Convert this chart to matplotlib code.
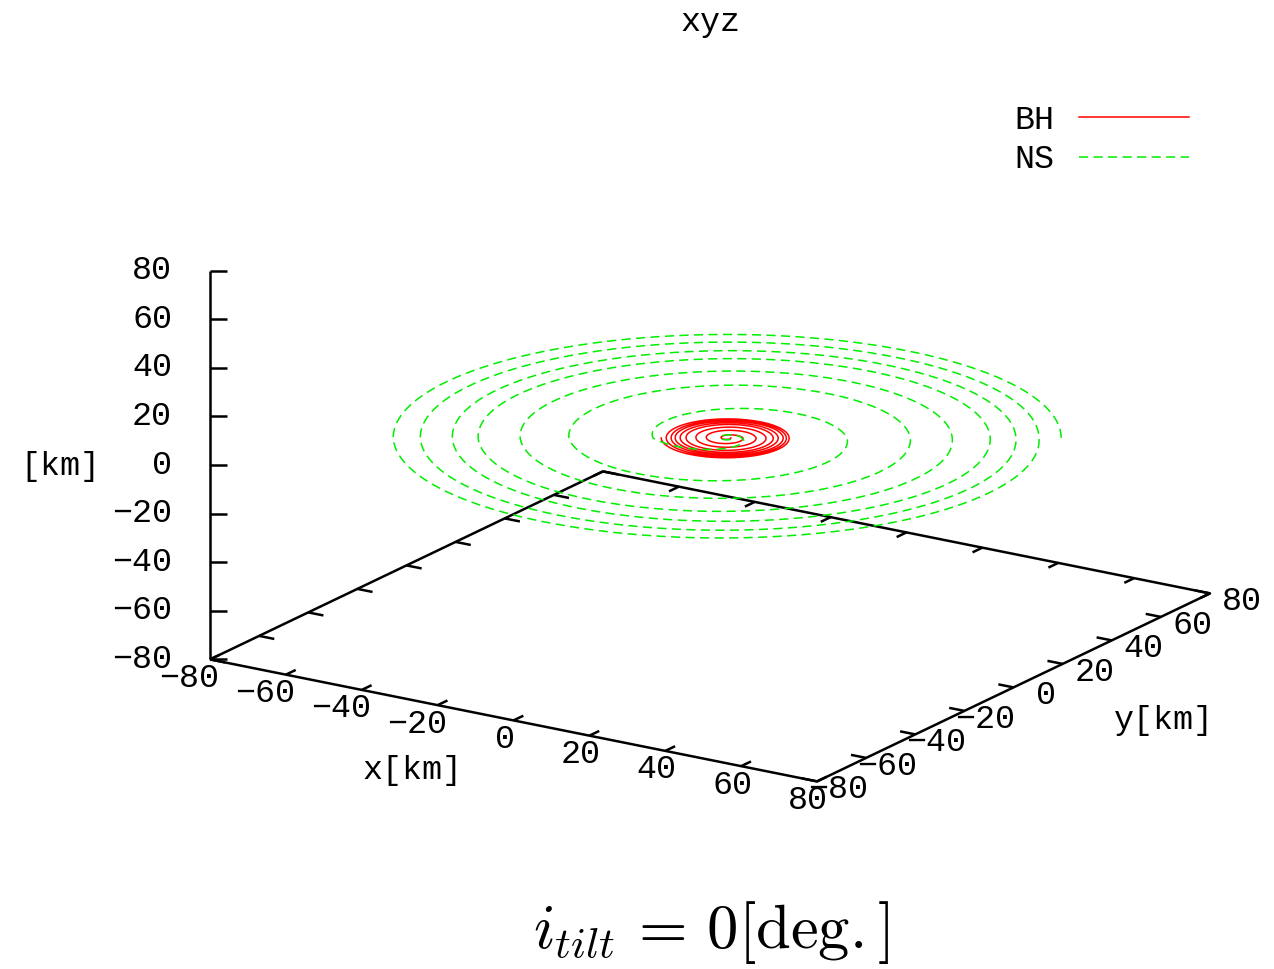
import numpy as np
import matplotlib
matplotlib.use("Agg")
import matplotlib.pyplot as plt

# ---- data -------------------------------------------------------------
# Orbit radius [km] at successive half turns (screen right / left extremes)
ns_half_turn_radius = [73.9, 73.9, 69.0, 67.9, 63.9, 60.8, 58.2, 55.1,
                       49.8, 45.8, 40.5, 35.0, 26.5, 16.4, 3.2, 1.5, 1.2]
bh_half_turn_radius = [14.6, 13.7, 13.5, 13.1, 12.4, 12.4, 11.5, 11.3,
                       10.4, 10.2, 9.1, 8.6, 6.9, 6.4, 4.6, 3.5, 1.3, 0.8]
orbit_center = (5.5, -1.5)          # [km] in the x-y plane
orbit_z = 0.0                       # [km]
ns_start_deg = 33.0
bh_start_deg = 213.0

axis_range = (-80, 80)
tick_values = [-80, -60, -40, -20, 0, 20, 40, 60, 80]
series_labels = ["BH", "NS"]
title_text = "xyz"
axis_unit = "[km]"
x_label = "x[km]"
y_label = "y[km]"
caption = r"$i_{tilt}\,=\,0\mathrm{[deg.]}$"

# ---- view (gnuplot-like orthographic projection, screen pixels) -------
ORIGIN = np.array([710.0, 432.0])
EX = np.array([3.794, 0.7625])
EY = np.array([2.456, -1.175])
EZ = np.array([0.0, -2.43])


def proj(x, y, z):
    x = np.asarray(x, float)
    y = np.asarray(y, float)
    z = np.asarray(z, float)
    sx = ORIGIN[0] + EX[0] * x + EY[0] * y + EZ[0] * z
    sy = ORIGIN[1] + EX[1] * x + EY[1] * y + EZ[1] * z
    return sx, sy


def spiral(radii, start_deg, n=4000):
    k = np.arange(len(radii))
    th_k = np.deg2rad(start_deg) + k * np.pi
    th = np.linspace(th_k[0], th_k[-1], n)
    r = np.exp(np.interp(th, th_k, np.log(radii)))
    x = orbit_center[0] + r * np.cos(th)
    y = orbit_center[1] + r * np.sin(th)
    return x, y, np.full_like(x, orbit_z)


W, H = 1274, 969
fig = plt.figure(figsize=(W / 100, H / 100), dpi=100)
ax = fig.add_axes([0, 0, 1, 1])
ax.set_xlim(0, W)
ax.set_ylim(H, 0)
ax.axis("off")

MONO = ["Liberation Mono", "DejaVu Sans Mono"]
FS = 24
plt.rcParams["mathtext.fontset"] = "cm"

lo, hi = axis_range
zb = lo  # base plane level
black = dict(color="black", lw=1.8, solid_capstyle="butt", zorder=2)

# base plane border
cx = [lo, hi, hi, lo, lo]
cy = [lo, lo, hi, hi, lo]
ax.plot(*proj(cx, cy, [zb] * 5), **black)
# vertical z axis
ax.plot(*proj([lo, lo], [lo, lo], [lo, hi]), **black)

L = 4.0  # tick length in data units
for v in tick_values:
    neg = v < 0
    lab = f"{v}".replace("-", "\u2212")
    # x axis (front, y = lo) and mirror (y = hi)
    ax.plot(*proj([v, v], [lo, lo + L], [zb, zb]), **black)
    ax.plot(*proj([v, v], [hi, hi - L], [zb, zb]), **black)
    px, py = proj(v, lo, zb)
    ax.text(px - (21 if neg else 9), py + 19, lab, family=MONO, fontsize=FS,
            ha="center", va="center")
    # y axis (front, x = hi) and mirror (x = lo)
    ax.plot(*proj([hi, hi - L], [v, v], [zb, zb]), **black)
    ax.plot(*proj([lo, lo + L], [v, v], [zb, zb]), **black)
    px, py = proj(hi, v, zb)
    ax.text(px + (21 if neg else 32), py + 8.5, lab, family=MONO, fontsize=FS,
            ha="center", va="center")
    # z axis
    px, py = proj(lo, lo, v)
    ax.plot([px, px + 17], [py, py], **black)
    ax.text(px - 38, py, lab, family=MONO, fontsize=FS, ha="right", va="center")

ax.text(60, 466, axis_unit, family=MONO, fontsize=FS, ha="center", va="center")
ax.text(412, 770, x_label, family=MONO, fontsize=FS, ha="center", va="center")
ax.text(1164, 720, y_label, family=MONO, fontsize=FS, ha="center", va="center")
ax.text(710, 22, title_text, family=MONO, fontsize=FS, ha="center", va="center")

# trajectories
bx, by, bz = spiral(bh_half_turn_radius, bh_start_deg)
nx, ny, nz = spiral(ns_half_turn_radius, ns_start_deg)
ax.plot(*proj(bx, by, bz), color="#ff0000", lw=1.1, label=series_labels[0],
        zorder=3)
ax.plot(*proj(nx, ny, nz), color="#00ee00", lw=1.1, dashes=(6, 3.5),
        label=series_labels[1], zorder=3)

leg = ax.legend(loc="upper right", bbox_to_anchor=(1189 / W, 1 - 105 / H),
                bbox_transform=fig.transFigure, frameon=False,
                markerfirst=False, handlelength=3.3, handletextpad=0.75,
                labelspacing=0.25, borderpad=0, borderaxespad=0,
                prop={"family": MONO, "size": FS})

ax.text(711, 933, caption, fontsize=45, ha="center", va="center")

fig.savefig("out.png", dpi=100)
